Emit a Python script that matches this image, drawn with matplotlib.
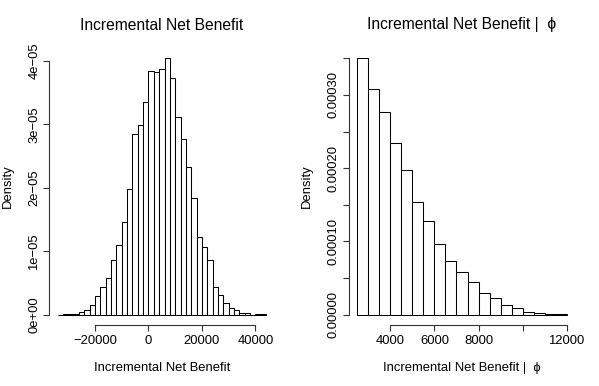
import matplotlib
matplotlib.use("Agg")
import matplotlib.pyplot as plt
import numpy as np

plt.rcParams['font.family'] = ['Liberation Sans', 'DejaVu Sans']

# ---- data: left histogram (Incremental Net Benefit) ----
inb_bin_start = -34000
inb_bin_width = 2000
inb_density = [0.003e-5, 0.005e-5, 0.016e-5, 0.016e-5, 0.04e-5, 0.074e-5, 0.16e-5,
               0.30e-5, 0.43e-5, 0.58e-5, 0.86e-5, 1.10e-5, 1.46e-5, 1.98e-5,
               2.84e-5, 2.99e-5, 3.35e-5, 3.84e-5, 3.82e-5, 3.87e-5, 4.04e-5,
               3.73e-5, 3.12e-5, 2.77e-5, 2.32e-5, 1.84e-5, 1.22e-5, 1.06e-5,
               0.86e-5, 0.44e-5, 0.305e-5, 0.18e-5, 0.105e-5, 0.074e-5, 0.03e-5,
               0.03e-5, 0.002e-5, 0.005e-5, 0.016e-5]
inb_xticks = [-20000, 0, 20000, 40000]
inb_xticklabels = ["\u221220000", "0", "20000", "40000"]
inb_yticks = [0, 1e-5, 2e-5, 3e-5, 4e-5]
inb_yticklabels = ["0e+00", "1e\u221205", "2e\u221205", "3e\u221205", "4e\u221205"]

# ---- data: right histogram (Incremental Net Benefit | phi) ----
cond_bin_start = 2500
cond_bin_width = 500
cond_density = [3.50e-4, 3.086e-4, 2.763e-4, 2.344e-4, 1.971e-4, 1.534e-4, 1.274e-4,
                0.970e-4, 0.737e-4, 0.587e-4, 0.451e-4, 0.300e-4, 0.223e-4, 0.137e-4,
                0.091e-4, 0.041e-4, 0.023e-4, 0.005e-4, 0.004e-4]
cond_xticks = [4000, 6000, 8000, 10000, 12000]
cond_xticklabels = ["4000", "6000", "8000", "", "12000"]
cond_yticks = [0, 0.5e-4, 1e-4, 1.5e-4, 2e-4, 2.5e-4, 3e-4, 3.5e-4]
cond_yticklabels = ["0.00000", "", "0.00010", "", "0.00020", "", "0.00030", ""]

titles = ["Incremental Net Benefit", "Incremental Net Benefit |  \u03d5"]
xlabels = titles
ylabel = "Density"

W, H = 599, 386
fig = plt.figure(figsize=(W / 100, H / 100), dpi=100)

TICK_PT = 13 * 0.72
TITLE_PT = 15.6 * 0.72


def panel(x0px, x1px, start, width, dens, xticks, xtl, yticks, ytl, title, xlabel):
    y0px, y1px = 48, 325
    ax = fig.add_axes([x0px / W, 1 - y1px / H, (x1px - x0px) / W, (y1px - y0px) / H])
    dens = np.asarray(dens)
    edges = start + width * np.arange(len(dens) + 1)
    ax.bar(edges[:-1], dens, width=width, align='edge', facecolor='white',
           edgecolor='black', linewidth=0.75)
    xr = edges[-1] - edges[0]
    ax.set_xlim(edges[0] - 0.04 * xr, edges[-1] + 0.04 * xr)
    ym = dens.max()
    ax.set_ylim(-0.04 * ym, ym * 1.04)
    for s in ['top', 'right']:
        ax.spines[s].set_visible(False)
    ax.spines['left'].set_bounds(yticks[0], yticks[-1])
    ax.spines['bottom'].set_bounds(xticks[0], xticks[-1])
    for s in ['left', 'bottom']:
        ax.spines[s].set_linewidth(0.8)
        ax.spines[s].set_color('#333333')
    ax.set_xticks(xticks)
    ax.set_xticklabels(xtl, fontsize=TICK_PT)
    ax.set_yticks(yticks)
    ax.set_yticklabels(ytl, fontsize=TICK_PT, rotation=90, va='center')
    ax.tick_params(axis='both', direction='out', length=4.3, width=0.8, color='#333333')
    ax.tick_params(axis='x', pad=3.2)
    ax.tick_params(axis='y', pad=2.2)
    cx = (x0px + x1px) / 2 / W
    fig.text(cx, 1 - 29.5 / H, title, ha='center', va='baseline', fontsize=TITLE_PT)
    fig.text(cx, 1 - 370.8 / H, xlabel, ha='center', va='baseline', fontsize=TICK_PT)
    fig.text((x0px - 41.8) / W, 1 - 186.5 / H, ylabel, rotation=90, ha='center',
             va='center', fontsize=TICK_PT)
    return ax


panel(49.3, 274.4, inb_bin_start, inb_bin_width, inb_density, inb_xticks,
      inb_xticklabels, inb_yticks, inb_yticklabels, titles[0], xlabels[0])
panel(349.0, 575.0, cond_bin_start, cond_bin_width, cond_density, cond_xticks,
      cond_xticklabels, cond_yticks, cond_yticklabels, titles[1], xlabels[1])

fig.savefig("out.png", dpi=100, facecolor='white')
